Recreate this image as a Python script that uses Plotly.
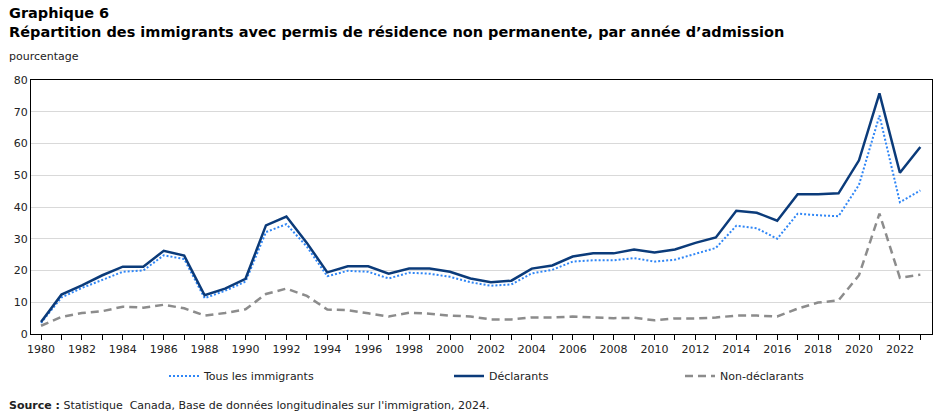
import plotly.graph_objects as go

years = list(range(1980, 2024))

tous = [3.5, 11.5, 14.5, 17.0, 19.6, 20.0, 24.8, 23.6, 11.3, 13.6,
        16.5, 32.1, 34.6, 27.5, 18.2, 19.9, 19.6, 17.5, 19.3, 19.0,
        18.0, 16.3, 15.2, 15.6, 19.1, 20.2, 22.8, 23.2, 23.2, 23.9,
        22.8, 23.4, 25.3, 27.1, 34.1, 33.3, 30.0, 37.9, 37.4, 37.1,
        47.0, 68.8, 41.5, 45.2]

declarants = [3.8, 12.4, 15.3, 18.5, 21.2, 21.2, 26.2, 24.7, 12.2, 14.3,
              17.4, 34.2, 37.0, 28.7, 19.4, 21.3, 21.3, 19.0, 20.6, 20.6,
              19.6, 17.5, 16.3, 16.8, 20.6, 21.6, 24.4, 25.4, 25.4, 26.6,
              25.7, 26.6, 28.7, 30.4, 38.8, 38.2, 35.7, 44.0, 44.0, 44.3,
              54.7, 75.8, 50.8, 58.9]

non_declarants = [2.6, 5.4, 6.6, 7.2, 8.6, 8.3, 9.2, 8.1, 5.8, 6.6,
                  7.8, 12.6, 14.3, 12.0, 7.7, 7.5, 6.5, 5.5, 6.7, 6.4,
                  5.8, 5.5, 4.6, 4.6, 5.2, 5.2, 5.5, 5.2, 5.0, 5.1,
                  4.3, 4.9, 4.9, 5.2, 5.8, 5.8, 5.5, 8.0, 9.9, 10.6,
                  18.5, 37.9, 17.7, 18.7]

series_names = ["Tous les immigrants", "Déclarants", "Non-déclarants"]
tick_years = years
tick_labels = [str(y) if y % 2 == 0 else "" for y in years]
y_ticks = [0, 10, 20, 30, 40, 50, 60, 70, 80]

FONT = "DejaVu Sans, Verdana, sans-serif"

fig = go.Figure()
fig.add_trace(go.Scatter(x=years, y=tous, mode="lines", name=series_names[0],
                         line=dict(color="#2f86f6", width=2, dash="2px,2px"),
                         legend="legend"))
fig.add_trace(go.Scatter(x=years, y=declarants, mode="lines", name=series_names[1],
                         line=dict(color="#0b3b7a", width=2.5),
                         legend="legend2"))
fig.add_trace(go.Scatter(x=years, y=non_declarants, mode="lines", name=series_names[2],
                         line=dict(color="#8c8c8c", width=2.5, dash="8px,5px"),
                         legend="legend3"))

leg_common = dict(orientation="h", xref="container", yref="container",
                  xanchor="left", yanchor="middle", y=1 - 376 / 415,
                  font=dict(family=FONT, size=11, color="#222222"),
                  bgcolor="rgba(0,0,0,0)", borderwidth=0)

fig.update_layout(
    width=944, height=415,
    margin=dict(l=31, r=12, t=80, b=81, autoexpand=False),
    paper_bgcolor="white", plot_bgcolor="white",
    font=dict(family=FONT, size=11, color="#222222"),
    showlegend=True,
    legend=dict(x=(169 - 5) / 944, **leg_common),
    legend2=dict(x=(454 - 5) / 944, **leg_common),
    legend3=dict(x=(685 - 5) / 944, **leg_common),
    xaxis=dict(range=[1979.51, 2023.57], tickmode="array",
               tickvals=tick_years, ticktext=tick_labels,
               ticks="outside", ticklen=5, tickcolor="black",
               showline=True, linecolor="black", linewidth=1, mirror=True,
               showgrid=False, zeroline=False,
               tickfont=dict(family=FONT, size=11, color="#222222")),
    yaxis=dict(range=[0, 80], tickmode="array", tickvals=y_ticks,
               ticks="", showline=True, linecolor="black", linewidth=1,
               mirror=True, showgrid=True, gridcolor="#d9d9d9", gridwidth=1,
               zeroline=False,
               tickfont=dict(family=FONT, size=11, color="#222222")),
    annotations=[
        dict(text="<b>Graphique 6</b>", xref="paper", yref="paper",
             x=-31 / 901 + 7 / 901, y=1 + (80 - 13) / 254, xanchor="left", yanchor="middle",
             showarrow=False, font=dict(family=FONT, size=14.5, color="black")),
        dict(text="<b>Répartition des immigrants avec permis de résidence non permanente, par année d’admission</b>",
             xref="paper", yref="paper",
             x=-31 / 901 + 7 / 901, y=1 + (80 - 32) / 254, xanchor="left", yanchor="middle",
             showarrow=False, font=dict(family=FONT, size=14.5, color="black")),
        dict(text="pourcentage", xref="paper", yref="paper",
             x=-31 / 901 + 7 / 901, y=1 + (80 - 57) / 254, xanchor="left", yanchor="middle",
             showarrow=False, font=dict(family=FONT, size=11, color="#222222")),
        dict(text="<b>Source :</b> Statistique  Canada, Base de données longitudinales sur l'immigration, 2024.",
             xref="paper", yref="paper",
             x=-31 / 901 + 7 / 901, y=-(405 - 334) / 254, xanchor="left", yanchor="middle",
             showarrow=False, font=dict(family=FONT, size=11, color="#222222")),
    ],
)

fig.write_html("out.html")
